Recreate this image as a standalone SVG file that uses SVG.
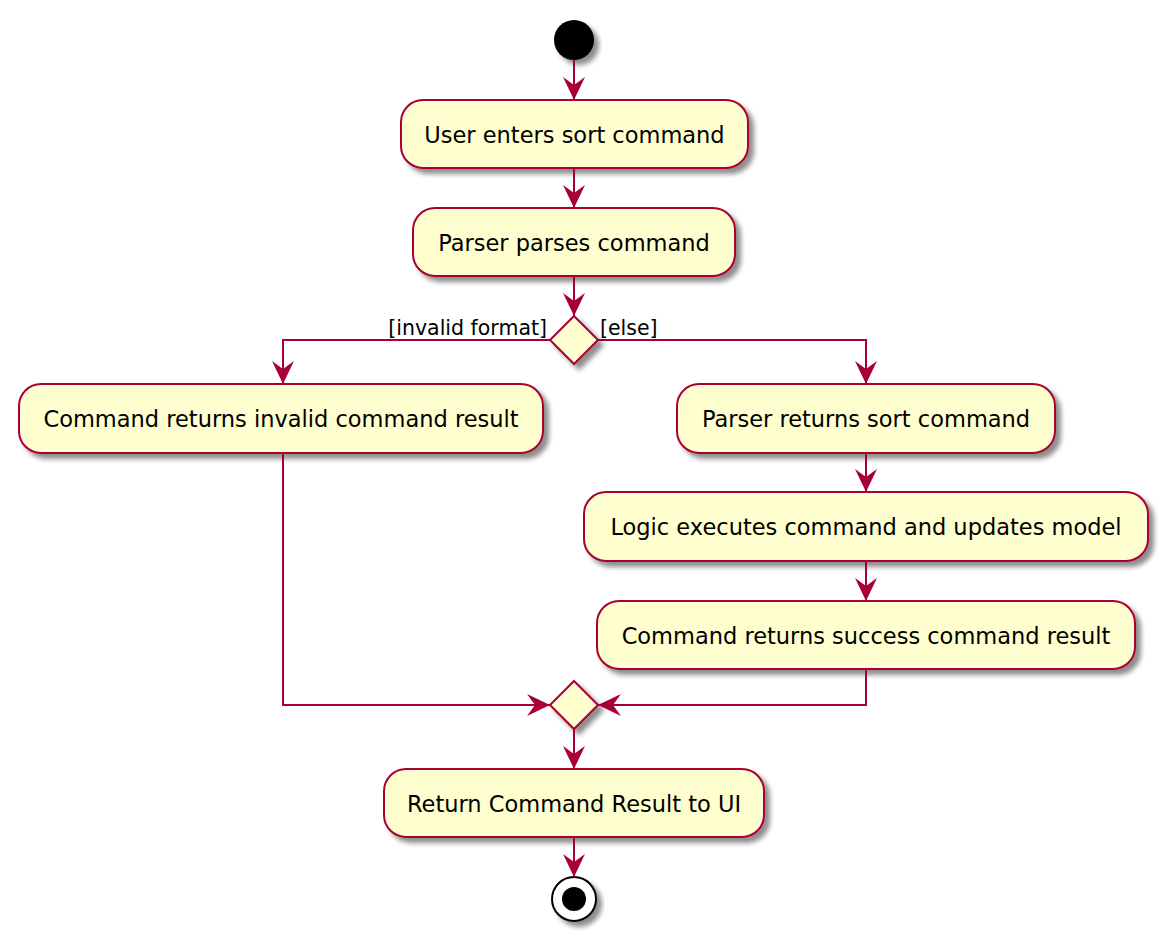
<svg xmlns="http://www.w3.org/2000/svg" width="1168" height="941" viewBox="0 0 1168 941">
<defs>
<filter id="sh" x="-20%" y="-20%" width="140%" height="150%">
<feGaussianBlur in="SourceAlpha" stdDeviation="2.5"/>
<feOffset dx="5" dy="5" result="b"/>
<feComponentTransfer><feFuncA type="linear" slope="0.45"/></feComponentTransfer>
<feMerge><feMergeNode/><feMergeNode in="SourceGraphic"/></feMerge>
</filter>
<marker id="ar" markerUnits="userSpaceOnUse" markerWidth="23" markerHeight="22" refX="23" refY="11" orient="auto" viewBox="0 0 23 22">
<path d="M23,11 L0,0 L8,11 L0,22 Z" fill="#A80036"/>
</marker>
</defs>
<style>
.act rect{fill:#FEFECE;stroke:#A80036;stroke-width:2;filter:url(#sh)}
.act text{font-family:"DejaVu Sans",sans-serif;font-size:22.5px;fill:#000;text-anchor:middle}
.dia polygon{fill:#FEFECE;stroke:#A80036;stroke-width:2;filter:url(#sh)}
.con path{fill:none;stroke:#A80036;stroke-width:2;marker-end:url(#ar)}
.lbl{font-family:"DejaVu Sans",sans-serif;font-size:20.5px;fill:#000}
</style>
<rect width="1168" height="941" fill="#fff"/>
<g id="start"><circle cx="574" cy="40" r="20" fill="#000" filter="url(#sh)"/></g>
<g id="a1" class="act"><rect x="401" y="100" width="347" height="68" rx="22"/><text x="574.5" y="143">User enters sort command</text></g>
<g id="a2" class="act"><rect x="413" y="208" width="322" height="68" rx="22"/><text x="574" y="251">Parser parses command</text></g>
<g id="d1" class="dia"><polygon points="574,316 598,340 574,364 550,340"/></g>
<g id="a3" class="act"><rect x="19" y="384" width="524" height="69" rx="22"/><text x="281" y="427">Command returns invalid command result</text></g>
<g id="a4" class="act"><rect x="677" y="384" width="378" height="69" rx="22"/><text x="866" y="427">Parser returns sort command</text></g>
<g id="a5" class="act"><rect x="584" y="492" width="564" height="69" rx="22"/><text x="866" y="535">Logic executes command and updates model</text></g>
<g id="a6" class="act"><rect x="597" y="601" width="538" height="68" rx="22"/><text x="866" y="644">Command returns success command result</text></g>
<g id="d2" class="dia"><polygon points="574,681 598,705 574,729 550,705"/></g>
<g id="a7" class="act"><rect x="384" y="769" width="380" height="68" rx="22"/><text x="574" y="812">Return Command Result to UI</text></g>
<g id="end"><circle cx="574" cy="899" r="22" fill="#fff" stroke="#000" stroke-width="2" filter="url(#sh)"/><circle cx="574" cy="899" r="12" fill="#000"/></g>
<g id="connectors" class="con">
<path d="M574,60 V100"/>
<path d="M574,168 V208"/>
<path d="M574,276 V316"/>
<path d="M550,340 H283 V384"/>
<path d="M598,340 H866 V384"/>
<path d="M866,453 V492"/>
<path d="M866,561 V601"/>
<path d="M283,453 V705 H550"/>
<path d="M866,669 V705 H598"/>
<path d="M574,729 V769"/>
<path d="M574,837 V877"/>
</g>
<g id="labels">
<text class="lbl" x="547" y="335" text-anchor="end">[invalid format]</text>
<text class="lbl" x="600" y="335">[else]</text>
</g>
</svg>
